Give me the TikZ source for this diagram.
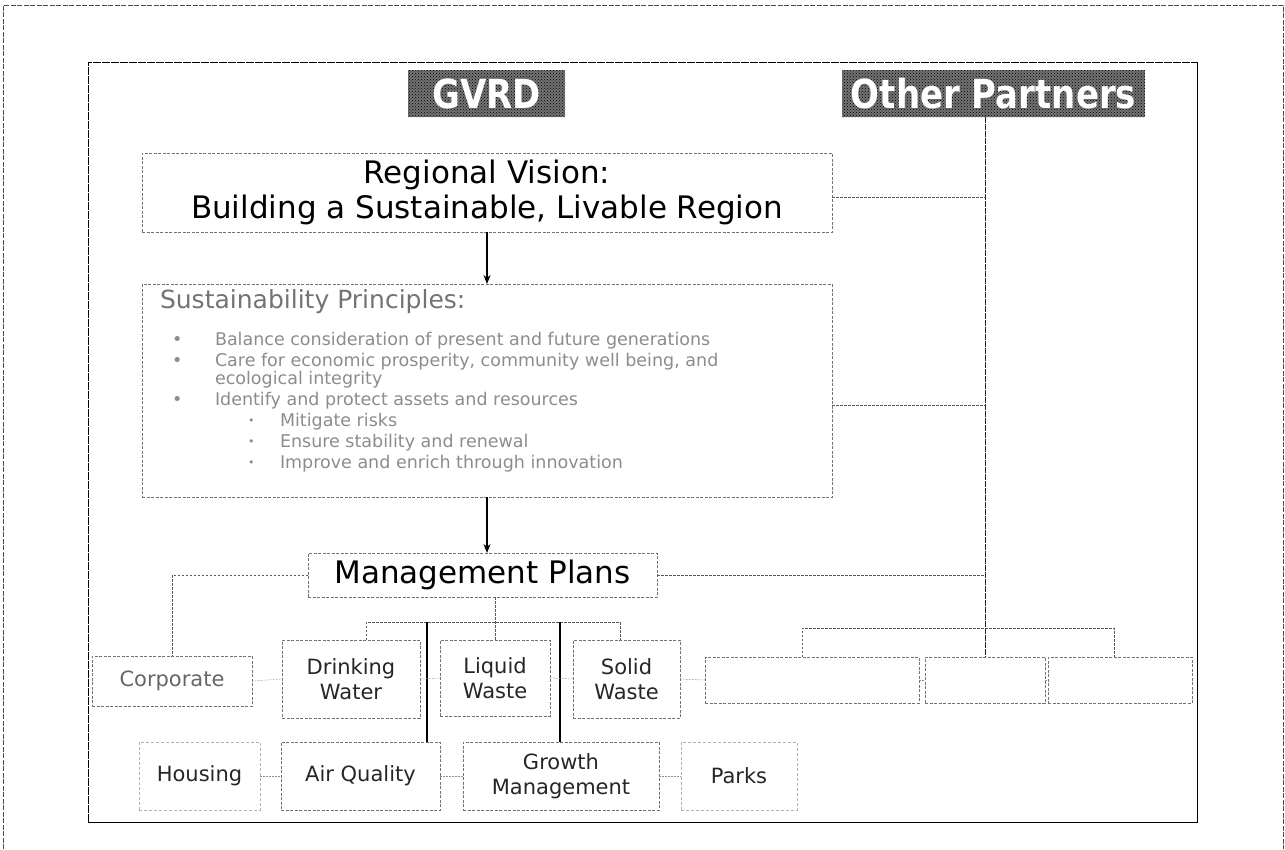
\documentclass[tikz,border=0pt]{standalone}
\usepackage{fontspec}
\setmainfont{DejaVu Sans}
\newfontfamily\headfont[FakeStretch=0.85]{DejaVu Sans}
\usetikzlibrary{arrows.meta,patterns}

\begin{document}
\begin{tikzpicture}[x=1pt,y=-1pt,
  every node/.style={inner sep=0pt,outer sep=0pt},
  pbox/.style={draw=black!55,dash pattern=on 3pt off 1.5pt,line width=0.6pt,align=center},
  faintbox/.style={draw=black!30,dash pattern=on 3pt off 2pt,line width=0.5pt,align=center},
  hdr/.style={fill=black!55,postaction={pattern=crosshatch dots,pattern color=black},
              text=white,font=\headfont\bfseries\fontsize{40}{44}\selectfont},
  lnk/.style={draw=black!65,dash pattern=on 2.5pt off 1.5pt,line width=0.6pt},
  stub/.style={draw=black!45,dash pattern=on 1.5pt off 1.5pt,line width=0.5pt},
  trunk/.style={draw=black!85,dash pattern=on 6pt off 1pt,line width=0.9pt},
  solidlink/.style={draw=black,line width=1.2pt},
  arr/.style={draw=black,line width=1.4pt,-{Stealth[length=9pt,width=7pt]}},
  big/.style={font=\fontsize{31}{35}\selectfont},
  lbl/.style={font=\fontsize{21}{25}\selectfont,text=black!85},
  bul/.style={anchor=west,font=\fontsize{17.5}{20}\selectfont,text=black!45}]

\useasboundingbox (0,0) rectangle (1285,849);

% page border and slide frame
\draw[black!70,dash pattern=on 5pt off 1.5pt,line width=0.6pt]
  (3,849) -- (3,5) -- (1283,5) -- (1283,849);
\draw[black,dash pattern=on 8pt off 1pt,line width=0.9pt] (88,822) -- (88,62) -- (1197,62);
\draw[black,line width=1pt] (1197,62) -- (1197,822) -- (88,822);

% column headers
\node[hdr,minimum width=157,minimum height=47] (gvrd) at (486.5,93.5) {GVRD};
\node[hdr,minimum width=303,minimum height=47] (op) at (993.5,93.5) {Other Partners};

% vision and principles
\node[pbox,big,minimum width=690,minimum height=79] (rv) at (487,192.5)
  {Regional Vision:\\Building a Sustainable, Livable Region};
\node[pbox,minimum width=690,minimum height=213] (sp) at (487,390.5) {};
\node[anchor=west,font=\fontsize{25}{30}\selectfont,text=black!55] (spt) at (160,302)
  {Sustainability Principles:};
\node[bul] (d1) at (172,341) {•};
\node[bul] (t1) at (215,341) {Balance consideration of present and future generations};
\node[bul] (d2) at (172,362) {•};
\node[bul] (t2) at (215,362) {Care for economic prosperity, community well being, and};
\node[bul] (t2b) at (215,380) {ecological integrity};
\node[bul] (d3) at (172,401) {•};
\node[bul] (t3) at (215,401) {Identify and protect assets and resources};
\node[bul,font=\fontsize{11}{12}\selectfont] (d4) at (248,422) {•};
\node[bul] (t4) at (280,422) {Mitigate risks};
\node[bul,font=\fontsize{11}{12}\selectfont] (d5) at (248,443) {•};
\node[bul] (t5) at (280,443) {Ensure stability and renewal};
\node[bul,font=\fontsize{11}{12}\selectfont] (d6) at (248,464) {•};
\node[bul] (t6) at (280,464) {Improve and enrich through innovation};

\node[pbox,big,minimum width=349,minimum height=44] (mp) at (482.5,575) {Management Plans};

% first row of plans
\node[pbox,lbl,text=black!60,minimum width=160,minimum height=50] (corp) at (172,681) {Corporate};
\node[pbox,lbl,minimum width=138,minimum height=78] (dw) at (351,679) {Drinking\\Water};
\node[pbox,lbl,minimum width=110,minimum height=76] (lw) at (495,678) {Liquid\\Waste};
\node[pbox,lbl,minimum width=107,minimum height=78] (sw) at (626.5,679) {Solid\\Waste};
\node[pbox,minimum width=214,minimum height=46] (r1) at (812,680) {};
\node[pbox,minimum width=120,minimum height=46] (r2) at (985,680) {};
\node[pbox,minimum width=144,minimum height=46] (r3) at (1120,680) {};

% second row of plans
\node[faintbox,lbl,minimum width=121,minimum height=68] (hs) at (199.5,776) {Housing};
\node[pbox,lbl,minimum width=159,minimum height=68] (aq) at (360.5,776) {Air Quality};
\node[pbox,lbl,minimum width=196,minimum height=68] (gm) at (561,776) {Growth\\Management};
\node[faintbox,lbl,minimum width=116,minimum height=68] (pk) at (739,776) {Parks};

% main flow
\draw[arr] (rv.south) -- (sp.north);
\draw[arr] (sp.south) -- (sp.south |- mp.north);

% management plans tree
\draw[lnk] (mp.west) -| (corp.north);
\draw[lnk] (mp.south -| lw.north) -- (lw.north);
\coordinate (bl) at (366,622);
\coordinate (br) at (620,622);
\draw[lnk] (bl |- dw.north) -- (bl) -- (br) -- (br |- sw.north);
\coordinate (sa) at (427,622);
\coordinate (sb) at (560,622);
\draw[solidlink] (sa) -- (sa |- aq.north);
\draw[solidlink] (sb) -- (sb |- gm.north);

% partner links
\coordinate (opx) at (op.south -| r2.north);
\draw[trunk] (opx) -- (r2.north);
\draw[lnk] ([yshift=-4.5pt]rv.east) -- ([yshift=-4.5pt]rv.east -| opx);
\draw[lnk] ([yshift=-14.5pt]sp.east) -- ([yshift=-14.5pt]sp.east -| opx);
\draw[lnk] (mp.east) -- (mp.east -| opx);
\coordinate (ol) at (802,628);
\coordinate (or) at (1114,628);
\draw[lnk] (ol |- r1.north) -- (ol) -- (or) -- (or |- r3.north);

% short side links between neighbouring boxes
\draw[stub] (corp.east) -- (dw.west);
\draw[stub] (dw.east) -- (lw.west);
\draw[stub] (lw.east) -- (sw.west);
\draw[stub] (sw.east) -- (r1.west);
\draw[stub] (r1.east) -- (r2.west);
\draw[stub] (r2.east) -- (r3.west);
\draw[stub] (hs.east) -- (aq.west);
\draw[stub] (aq.east) -- (gm.west);
\draw[stub] (gm.east) -- (pk.west);
\end{tikzpicture}
\end{document}
